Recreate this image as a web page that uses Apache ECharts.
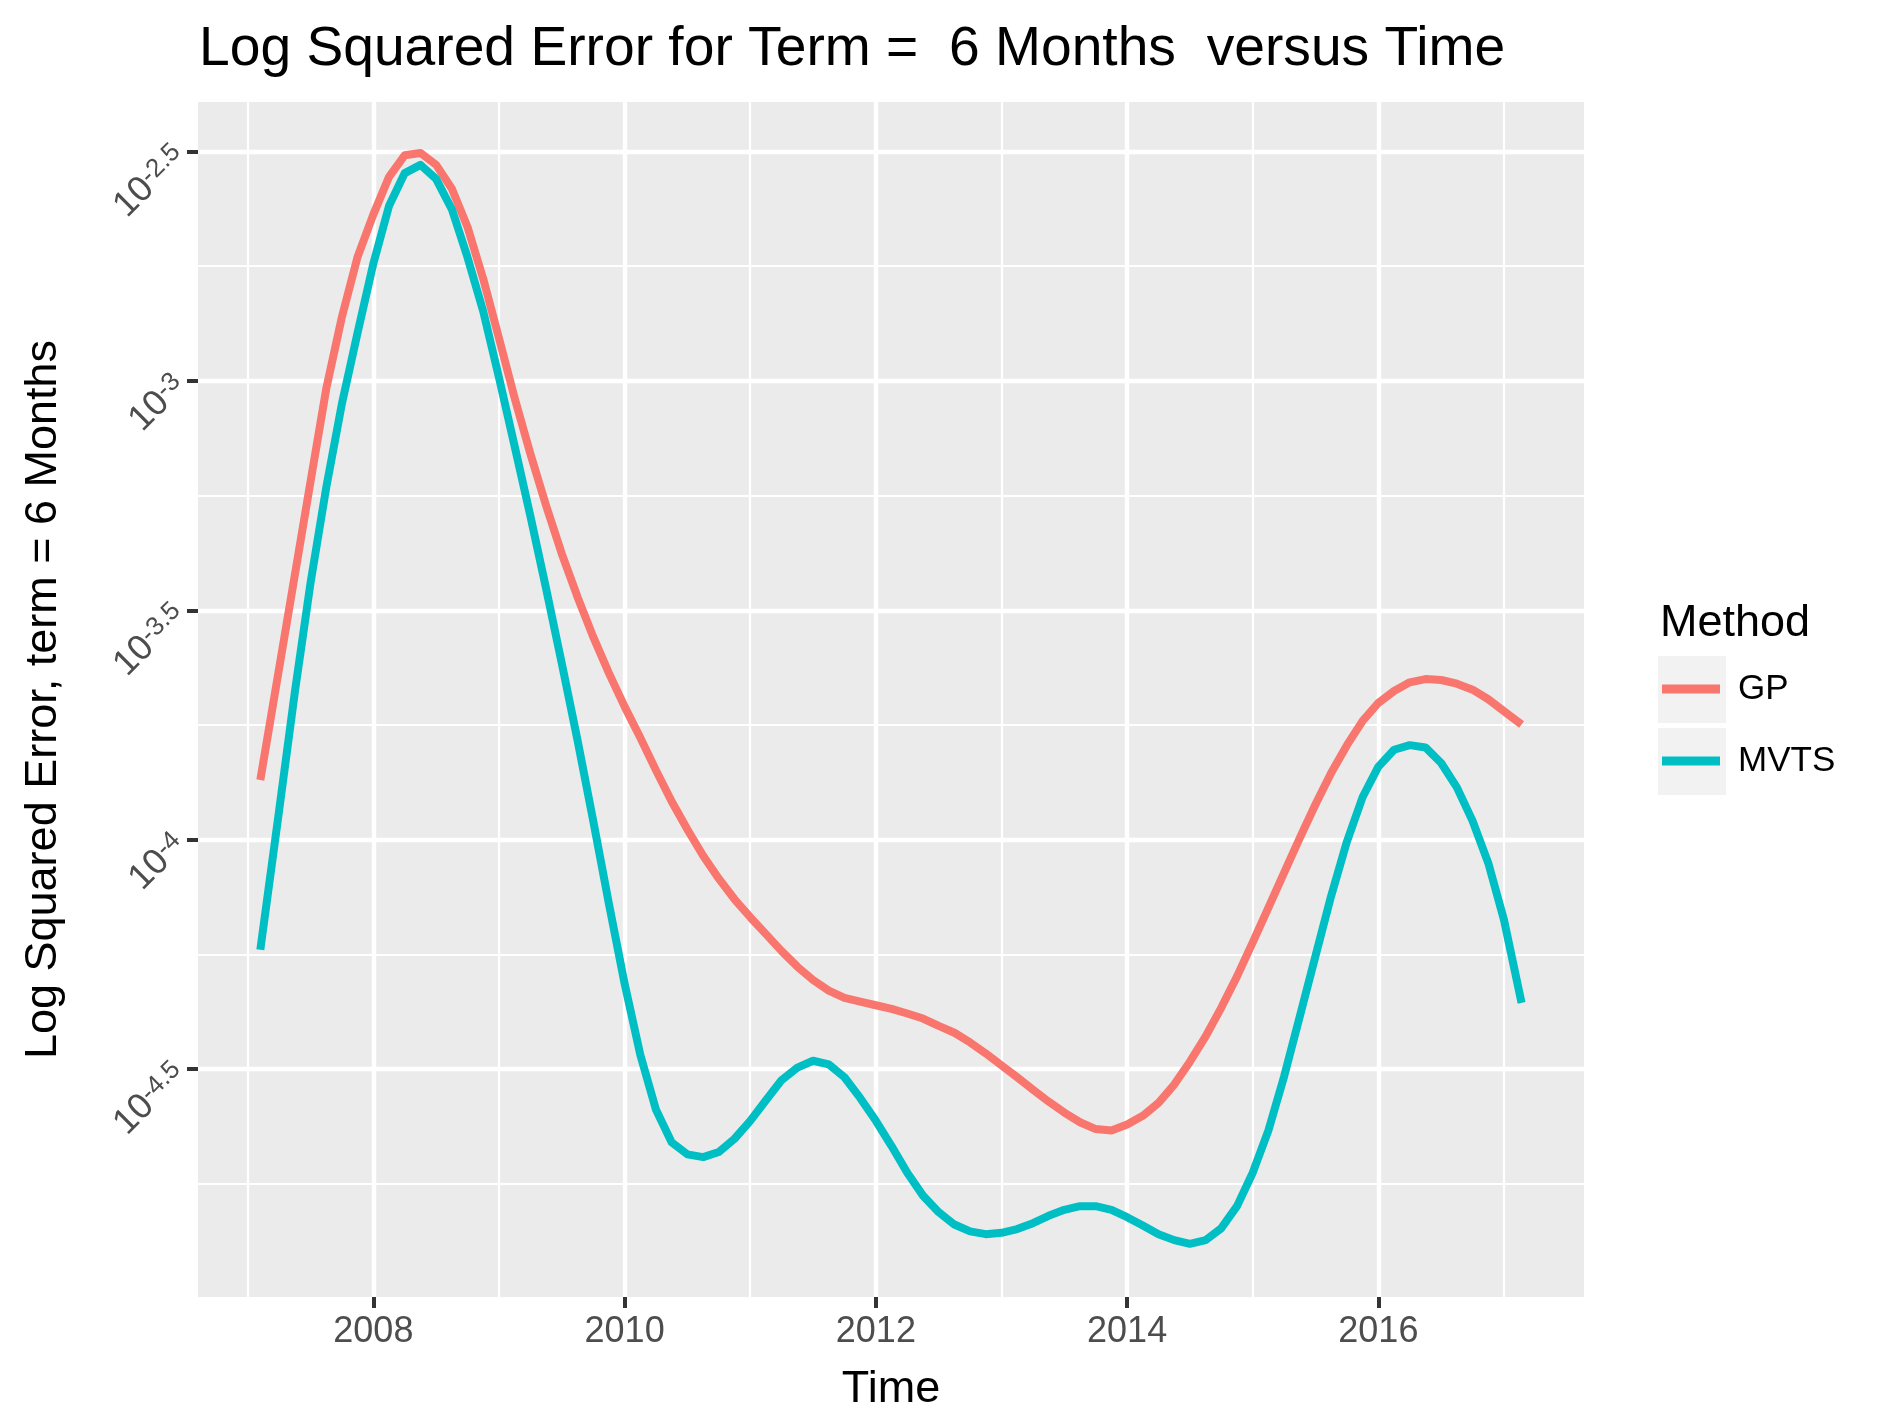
<!DOCTYPE html>
<html><head><meta charset="utf-8">
<script src="https://cdn.jsdelivr.net/npm/echarts@6/dist/echarts.min.js"></script>
<style>html,body{margin:0;padding:0;background:#fff}#c{width:1884px;height:1425px}</style>
</head><body><div id="c"></div>
<script>
// ---- data (y values are log10 of the squared error) ----
const years = [2007.10, 2007.25, 2007.375, 2007.5, 2007.625, 2007.75, 2007.875,
  2008, 2008.125, 2008.25, 2008.375, 2008.5, 2008.625, 2008.75, 2008.875,
  2009, 2009.125, 2009.25, 2009.375, 2009.5, 2009.625, 2009.75, 2009.875,
  2010, 2010.125, 2010.25, 2010.375, 2010.5, 2010.625, 2010.75, 2010.875,
  2011, 2011.125, 2011.25, 2011.375, 2011.5, 2011.625, 2011.75, 2011.875,
  2012, 2012.125, 2012.25, 2012.375, 2012.5, 2012.625, 2012.75, 2012.875,
  2013, 2013.125, 2013.25, 2013.375, 2013.5, 2013.625, 2013.75, 2013.875,
  2014, 2014.125, 2014.25, 2014.375, 2014.5, 2014.625, 2014.75, 2014.875,
  2015, 2015.125, 2015.25, 2015.375, 2015.5, 2015.625, 2015.75, 2015.875,
  2016, 2016.125, 2016.25, 2016.375, 2016.5, 2016.625, 2016.75, 2016.875,
  2017, 2017.14];
const gpLog10 = [-3.870, -3.626, -3.423, -3.219, -3.017, -2.860, -2.729,
  -2.637, -2.555, -2.508, -2.503, -2.529, -2.581, -2.665, -2.778,
  -2.907, -3.038, -3.159, -3.272, -3.377, -3.471, -3.558, -3.637,
  -3.710, -3.778, -3.849, -3.917, -3.978, -4.035, -4.085, -4.130,
  -4.169, -4.206, -4.243, -4.277, -4.306, -4.329, -4.345, -4.353,
  -4.361, -4.369, -4.379, -4.390, -4.406, -4.421, -4.442, -4.466,
  -4.492, -4.518, -4.545, -4.571, -4.595, -4.616, -4.631, -4.634,
  -4.621, -4.602, -4.574, -4.534, -4.484, -4.429, -4.366, -4.298,
  -4.224, -4.148, -4.072, -3.996, -3.923, -3.854, -3.794, -3.741,
  -3.702, -3.676, -3.657, -3.650, -3.652, -3.660, -3.673, -3.694,
  -3.720, -3.749];
const mvtsLog10 = [-4.240, -3.936, -3.678, -3.440, -3.232, -3.049, -2.894,
  -2.744, -2.618, -2.547, -2.529, -2.560, -2.626, -2.731, -2.849,
  -2.993, -3.143, -3.295, -3.453, -3.616, -3.783, -3.959, -4.140,
  -4.314, -4.469, -4.589, -4.660, -4.686, -4.692, -4.681, -4.652,
  -4.613, -4.568, -4.524, -4.497, -4.482, -4.490, -4.518, -4.563,
  -4.613, -4.668, -4.726, -4.776, -4.812, -4.839, -4.854, -4.860,
  -4.857, -4.849, -4.836, -4.820, -4.807, -4.799, -4.799, -4.807,
  -4.823, -4.841, -4.860, -4.873, -4.881, -4.873, -4.847, -4.799,
  -4.726, -4.634, -4.516, -4.385, -4.253, -4.122, -4.004, -3.907,
  -3.841, -3.804, -3.794, -3.799, -3.833, -3.886, -3.959, -4.051,
  -4.175, -4.356];
const seriesNames = ['GP', 'MVTS'];
const xMajorTicks = [2008, 2010, 2012, 2014, 2016];
const xMinorTicks = [2007, 2009, 2011, 2013, 2015, 2017];
const yMajorTicks = [-4.5, -4, -3.5, -3, -2.5];
const yMinorTicks = [-4.75, -4.25, -3.75, -3.25, -2.75];
const xRange = [2006.604, 2017.637];
const yRange = [-4.997, -2.392];

const FONT = '"Liberation Sans", Arial, Helvetica, sans-serif';
const COLORS = ['#F8766D', '#00BFC4'];

const pairs = (ys) => years.map((x, i) => [x, ys[i]]);

const chart = echarts.init(document.getElementById('c'), null, {renderer: 'canvas'});
chart.setOption({
  animation: false,
  backgroundColor: '#ffffff',
  textStyle: {fontFamily: FONT},
  title: [
    {text: 'Log Squared Error for Term =  6 Months  versus Time', left: 194, top: 17,
     textStyle: {fontFamily: FONT, fontSize: 55.2, fontWeight: 'normal', color: '#000'}},
    {text: 'Method', left: 1655, top: 596,
     textStyle: {fontFamily: FONT, fontSize: 45, fontWeight: 'normal', color: '#000'}}
  ],
  graphic: [
    {type: 'rect', left: 1658, top: 656, shape: {width: 68, height: 67}, style: {fill: '#F2F2F2'}, z: 0},
    {type: 'rect', left: 1658, top: 728, shape: {width: 68, height: 67}, style: {fill: '#F2F2F2'}, z: 0}
  ],
  legend: {
    orient: 'vertical', left: 1662, top: 669, padding: 0, itemGap: 32,
    itemWidth: 58, itemHeight: 9, icon: 'rect',
    textStyle: {fontFamily: FONT, fontSize: 35, color: '#000', lineHeight: 40, padding: [0, 0, 0, 13]},
    data: seriesNames, selectedMode: false, z: 5
  },
  grid: {left: 198, right: 300, top: 102, bottom: 128, show: true, backgroundColor: '#EBEBEB', borderWidth: 0},
  xAxis: [
    {type: 'value', min: xRange[0], max: xRange[1], position: 'bottom',
     name: 'Time', nameLocation: 'middle', nameGap: 70,
     nameTextStyle: {fontFamily: FONT, fontSize: 45, color: '#000'},
     axisLine: {show: false},
     axisTick: {show: true, customValues: xMajorTicks, length: 11, lineStyle: {color: '#333333', width: 4}},
     axisLabel: {customValues: xMajorTicks, fontFamily: FONT, fontSize: 36, color: '#4D4D4D', margin: 17,
       formatter: v => String(v)},
     splitLine: {show: true, lineStyle: {color: '#FFFFFF', width: 4.4}}},
    {type: 'value', min: xRange[0], max: xRange[1], position: 'bottom',
     axisLine: {show: false},
     axisTick: {show: false, customValues: xMinorTicks},
     axisLabel: {show: false, customValues: xMinorTicks},
     splitLine: {show: true, lineStyle: {color: '#FFFFFF', width: 2.2}}}
  ],
  yAxis: [
    {type: 'value', min: yRange[0], max: yRange[1], position: 'left',
     name: 'Log Squared Error, term = 6 Months', nameLocation: 'middle', nameGap: 132, nameRotate: 90,
     nameTextStyle: {fontFamily: FONT, fontSize: 45, color: '#000'},
     axisLine: {show: false},
     axisTick: {show: true, customValues: yMajorTicks, length: 11, lineStyle: {color: '#333333', width: 4}},
     axisLabel: {customValues: yMajorTicks, rotate: 45, margin: 18,
       formatter: v => '{b|10}{s|' + v + '}',
       rich: {
         b: {fontFamily: FONT, fontSize: 36, color: '#4D4D4D', lineHeight: 36, padding: [9, 0, 0, 0], verticalAlign: 'bottom'},
         s: {fontFamily: FONT, fontSize: 26, color: '#4D4D4D', lineHeight: 26, verticalAlign: 'top'}
       }},
     splitLine: {show: true, lineStyle: {color: '#FFFFFF', width: 4.4}}},
    {type: 'value', min: yRange[0], max: yRange[1], position: 'left',
     axisLine: {show: false},
     axisTick: {show: false, customValues: yMinorTicks},
     axisLabel: {show: false, customValues: yMinorTicks},
     splitLine: {show: true, lineStyle: {color: '#FFFFFF', width: 2.2}}}
  ],
  series: seriesNames.map((name, i) => ({
    name: name, type: 'line', xAxisIndex: 0, yAxisIndex: 0,
    data: pairs(i === 0 ? gpLog10 : mvtsLog10),
    showSymbol: false, symbol: 'none', smooth: false,
    lineStyle: {color: COLORS[i], width: 8, cap: 'butt', join: 'round'},
    itemStyle: {color: COLORS[i]}, z: 3
  }))
});
</script></body></html>
